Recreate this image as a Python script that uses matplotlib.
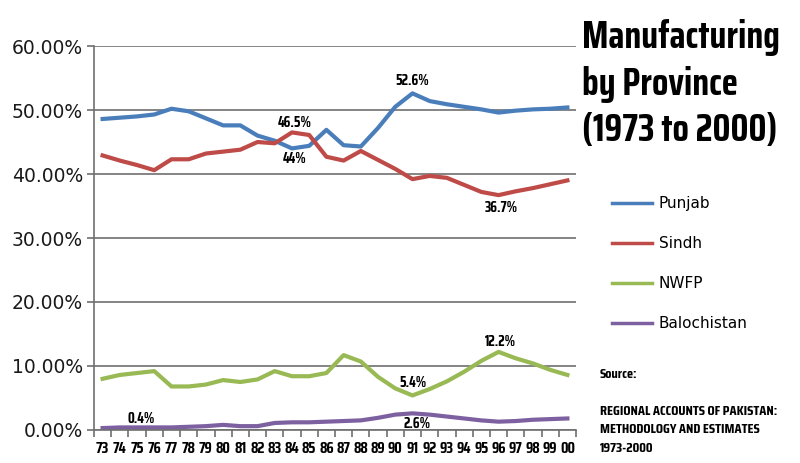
import matplotlib
matplotlib.use('Agg')
import matplotlib.pyplot as plt
from matplotlib import font_manager

years = ['73', '74', '75', '76', '77', '78', '79', '80', '81', '82', '83', '84', '85', '86',
         '87', '88', '89', '90', '91', '92', '93', '94', '95', '96', '97', '98', '99', '00']

punjab = [48.6, 48.8, 49.0, 49.3, 50.2, 49.8, 48.7, 47.6, 47.6, 46.0, 45.2, 44.0, 44.4, 46.9,
          44.5, 44.3, 47.2, 50.5, 52.6, 51.4, 50.9, 50.5, 50.1, 49.6, 49.9, 50.1, 50.2, 50.4]
sindh = [42.9, 42.1, 41.4, 40.6, 42.3, 42.3, 43.2, 43.5, 43.8, 45.0, 44.8, 46.5, 46.1, 42.7,
         42.1, 43.6, 42.2, 40.8, 39.2, 39.7, 39.4, 38.3, 37.2, 36.7, 37.3, 37.8, 38.4, 39.0]
nwfp = [8.0, 8.6, 8.9, 9.2, 6.8, 6.8, 7.1, 7.8, 7.5, 7.9, 9.2, 8.4, 8.4, 8.9,
        11.7, 10.7, 8.3, 6.5, 5.4, 6.4, 7.6, 9.1, 10.8, 12.2, 11.2, 10.4, 9.4, 8.6]
balochistan = [0.3, 0.4, 0.4, 0.4, 0.4, 0.5, 0.6, 0.8, 0.6, 0.6, 1.1, 1.2, 1.2, 1.3,
               1.4, 1.5, 1.9, 2.4, 2.6, 2.4, 2.1, 1.8, 1.5, 1.3, 1.4, 1.6, 1.7, 1.8]

series = [('Punjab', punjab, '#4a7ebb'),
          ('Sindh', sindh, '#be4b48'),
          ('NWFP', nwfp, '#98b954'),
          ('Balochistan', balochistan, '#7d60a0')]

# (series name, year index, label, offset in points)
notes = [('Punjab', 18, '52.6%', (0, 9)),
         ('Sindh', 11, '46.5%', (2, 6.5)),
         ('Punjab', 11, '44%', (2, -7.5)),
         ('Sindh', 23, '36.7%', (2, -9)),
         ('NWFP', 23, '12.2%', (1, 7)),
         ('NWFP', 18, '5.4%', (0, 9)),
         ('Balochistan', 18, '2.6%', (3, -8)),
         ('Balochistan', 2, '0.4%', (3, 6))]

title_lines = ['Manufacturing', 'by Province', '(1973 to 2000)']
source_lines = ['REGIONAL ACCOUNTS OF PAKISTAN:', 'METHODOLOGY AND ESTIMATES', '1973-2000']

# pick a condensed face close to the Agency-style lettering
prefs = ['Saira Condensed', 'Roboto Condensed', 'Antonio', 'Pathway Gothic One',
         'Archivo Narrow', 'PT Sans Narrow', 'Oswald']
available = {f.name for f in font_manager.fontManager.ttflist}
narrow = next((n for n in prefs if n in available), 'DejaVu Sans')

fig = plt.figure(figsize=(8, 4.63), dpi=100)
ax = fig.add_axes([0.1175, 0.0713, 0.6025, 0.8293])
fig.canvas.draw()
rend = fig.canvas.get_renderer()


def fit(t, width_px):
    bb = t.get_window_extent(rend)
    t.set_fontsize(t.get_fontsize() * width_px / bb.width)
    return t.get_fontsize()


def size_for(s, width_px, **kw):
    t = fig.text(0, 0, s, fontsize=10, **kw)
    size = fit(t, width_px)
    t.remove()
    return size


x = list(range(len(years)))
data = {}
for name, vals, col in series:
    ax.plot(x, vals, color=col, lw=3, label=name, solid_joinstyle='round')
    data[name] = vals

note_size = size_for('52.6%', 34, family=narrow, fontweight='bold')
for name, i, txt, off in notes:
    ax.annotate(txt, xy=(i, data[name][i]), xytext=off, textcoords='offset points',
                ha='center', va='center', fontsize=note_size, fontweight='bold', family=narrow)

ax.set_xlim(-0.5, 27.5)
ax.set_ylim(0, 60)
ax.set_yticks(range(0, 61, 10))
ax.set_yticklabels(['%.2f%%' % v for v in range(0, 61, 10)], fontsize=13.5, color='#1a1a1a')
ax.yaxis.grid(True, color='#707070', lw=1.2)
ax.set_axisbelow(True)

tick_size = size_for('00', 14.5, family=narrow, fontweight='bold')
ax.set_xticks(x)
ax.set_xticklabels(years, fontsize=tick_size, fontweight='bold', family=narrow)
ax.set_xticks([v + 0.5 for v in range(-1, 28)], minor=True)
ax.tick_params(axis='x', which='major', length=0, pad=8.5)
ax.tick_params(axis='x', which='minor', length=5, width=1.2, color='#707070')
ax.tick_params(axis='y', length=5, width=1.2, color='#707070', pad=3)

for s in ['top', 'right']:
    ax.spines[s].set_visible(False)
for s in ['left', 'bottom']:
    ax.spines[s].set_color('#707070')
    ax.spines[s].set_linewidth(1.2)

leg = ax.legend(loc='upper left', bbox_to_anchor=(0.765, 0.577), bbox_transform=fig.transFigure,
                frameon=False, borderpad=0, borderaxespad=0, fontsize=11, handlelength=2.6,
                handletextpad=0.45, labelspacing=1.65)
for h in leg.get_lines():
    h.set_linewidth(2.5)

# title, one text per line, sized to the reference width of the first line
baselines = [48, 95, 141]
tl = [fig.text(582 / 800, 1 - b / 463, s, ha='left', va='baseline', fontsize=25,
               fontweight='bold', family=narrow) for s, b in zip(title_lines, baselines)]
tsize = fit(tl[0], 198)
for t in tl[1:]:
    t.set_fontsize(tsize)

src = fig.text(600 / 800, 1 - 378 / 463, 'Source:', ha='left', va='baseline', fontsize=8.5,
               fontweight='bold', family=narrow)
sl = [fig.text(600 / 800, 1 - b / 463, s, ha='left', va='baseline', fontsize=8.5,
               fontweight='bold', family=narrow)
      for s, b in zip(source_lines, [415, 433, 451.5])]
ssize = fit(sl[0], 178)
for t in sl[1:] + [src]:
    t.set_fontsize(ssize)

fig.savefig('out.png', dpi=100)
